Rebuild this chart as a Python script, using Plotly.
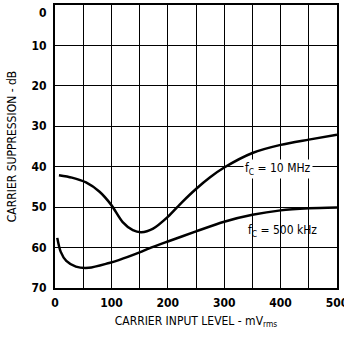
import plotly.graph_objects as go

# fc = 10 MHz curve
mv_10m = [7, 30, 55, 79, 100, 120, 138, 153, 174, 200, 225, 250, 275, 300, 350, 400, 450, 500]
db_10m = [42.1, 42.7, 43.9, 46.2, 49.5, 53.7, 55.7, 56.2, 55.3, 52.4, 48.8, 45.5, 42.6, 40.2, 36.6, 34.6, 33.3, 32.1]

# fc = 500 kHz curve
mv_500k = [4, 10, 20, 37, 60, 96, 113, 150, 167, 200, 250, 300, 350, 400, 450, 500]
db_500k = [57.6, 61.0, 63.3, 64.7, 65.0, 63.8, 63.1, 61.2, 60.2, 58.5, 56.0, 53.6, 51.9, 50.8, 50.3, 50.1]

x_ticks = [0, 100, 200, 300, 400, 500]
y_ticks = [10, 20, 30, 40, 50, 60, 70]

FONT = "DejaVu Sans Condensed, Liberation Sans Narrow, sans-serif"

fig = go.Figure()
fig.add_trace(go.Scatter(x=mv_10m, y=db_10m, mode="lines", line=dict(color="black", width=2.5, shape="spline", smoothing=0.8)))
fig.add_trace(go.Scatter(x=mv_500k, y=db_500k, mode="lines", line=dict(color="black", width=2.5, shape="spline", smoothing=0.8)))

fig.add_annotation(x=395, y=40.6, text="f<sub>C</sub> = 10 MHz", showarrow=False,
                   bgcolor="white", font=dict(size=12, color="black", family=FONT))
fig.add_annotation(x=403, y=55.8, text="f<sub>C</sub> = 500 kHz", showarrow=False,
                   font=dict(size=12, color="black", family=FONT))
# top "0" label sits just below the top border in the original
fig.add_annotation(x=0, xref="paper", xshift=-6, y=0, yanchor="top", xanchor="right", yshift=1,
                   text="0", showarrow=False, font=dict(size=12, color="black", family=FONT, weight="bold"))

fig.update_layout(
    width=344, height=343,
    margin=dict(l=55, r=7, t=5, b=55),
    plot_bgcolor="white", paper_bgcolor="white",
    showlegend=False,
    font=dict(family=FONT, color="black", size=12),
    xaxis=dict(
        range=[0, 500], tickvals=x_ticks, showgrid=True, gridcolor="black", gridwidth=1.3,
        minor=dict(dtick=50, showgrid=True, gridcolor="black", gridwidth=1.3),
        showline=True, linecolor="black", linewidth=2, mirror=True, zeroline=False,
        automargin=False, ticklabelstandoff=3, ticklabeloverflow="allow",
        tickfont=dict(size=12, family=FONT, weight="bold"),
        title=dict(text="CARRIER INPUT LEVEL - mV<sub>rms</sub>", font=dict(size=12, family=FONT), standoff=7),
    ),
    yaxis=dict(
        range=[70, 0], tickvals=y_ticks, showgrid=True, gridcolor="black", gridwidth=1.3,
        showline=True, linecolor="black", linewidth=2, mirror=True, zeroline=False,
        automargin=False, ticklabelstandoff=4, ticklabeloverflow="allow",
        tickfont=dict(size=12, family=FONT, weight="bold"),
        title=dict(text="CARRIER SUPPRESSION - dB", font=dict(size=12, family=FONT), standoff=12),
    ),
)

# drop the page's default body margin so the figure fills the window
fig.write_html("out.html", config={"displayModeBar": False},
               post_script="document.body.style.margin='0';")
